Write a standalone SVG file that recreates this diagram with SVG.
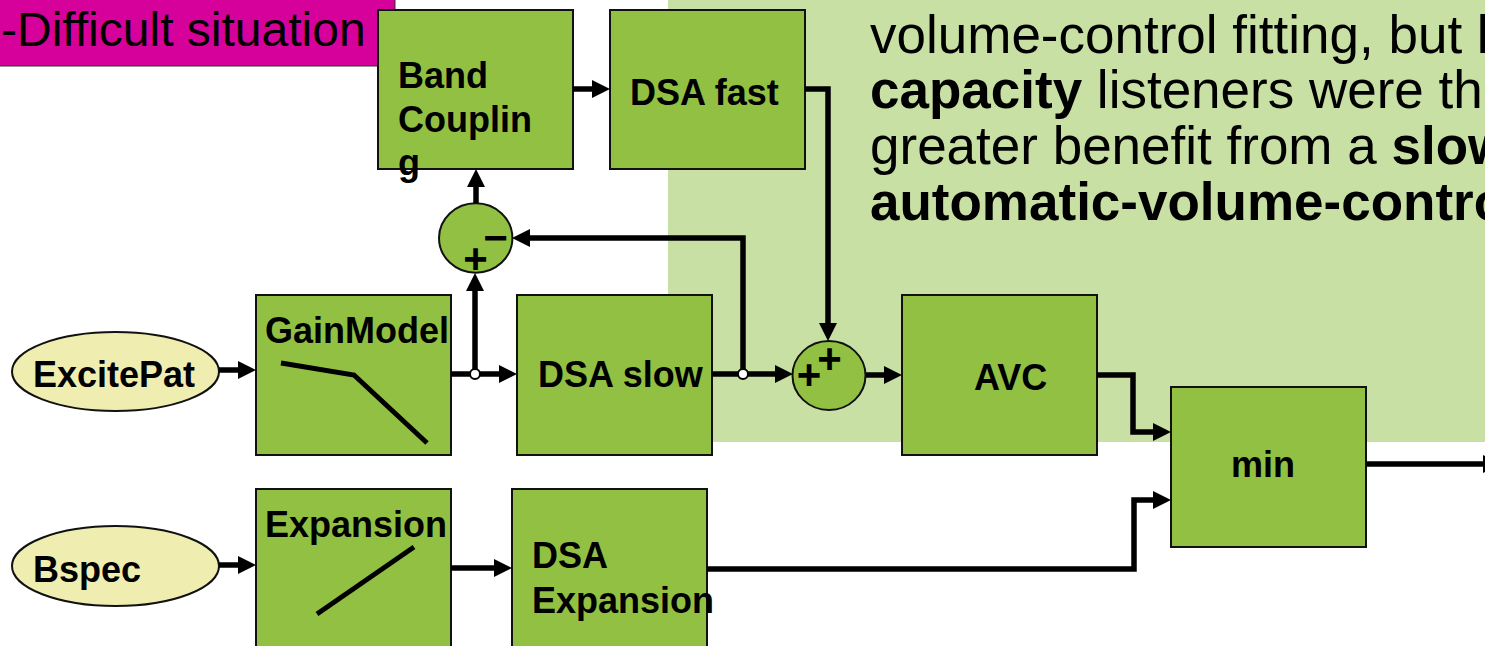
<svg xmlns="http://www.w3.org/2000/svg" width="1485" height="646" viewBox="0 0 1485 646">
<defs>
<style>
.box{fill:#92C043;stroke:#111;stroke-width:2}
.ell{fill:#EFEEB0;stroke:#111;stroke-width:2}
.sum{fill:#92C043;stroke:#111;stroke-width:2}
.lbl{font-family:"Liberation Sans",Arial,sans-serif;font-weight:bold;font-size:36px;fill:#000}
.sign{font-family:"Liberation Sans",Arial,sans-serif;font-weight:bold;font-size:42px;fill:#000;text-anchor:middle}
.body{font-family:"Liberation Sans",Arial,sans-serif;font-size:53px;fill:#000}
.conn{fill:none;stroke:#000;stroke-width:5.5;marker-end:url(#arr)}
.curve{fill:none;stroke:#000;stroke-width:5}
.dot{fill:#fff;stroke:#000;stroke-width:2}
</style>
<marker id="arr" markerUnits="userSpaceOnUse" markerWidth="18" markerHeight="18" refX="0" refY="9" orient="auto">
<path d="M0,0 L18,9 L0,18 Z" fill="#000"/>
</marker>
</defs>

<g id="background">
<rect x="668" y="0" width="817" height="442" fill="#C8E0A4"/>
<text class="body" x="870" y="53">volume-control fitting, but l</text>
<text class="body" x="870" y="108"><tspan font-weight="bold">capacity</tspan> listeners were th</text>
<text class="body" x="870" y="164">greater benefit from a <tspan font-weight="bold">slow</tspan></text>
<text class="body" x="870" y="220" font-weight="bold">automatic-volume-control</text>
</g>

<g id="title">
<rect x="-2" y="-2" width="397" height="68" fill="#D6009A" stroke="#333" stroke-width="1"/>
<text x="1" y="46" font-family="Liberation Sans,Arial,sans-serif" font-size="48" fill="#000">-Difficult situation</text>
</g>

<g id="excitepat">
<ellipse class="ell" cx="115.5" cy="371.5" rx="103.5" ry="39.5"/>
<text class="lbl" x="33" y="387">ExcitePat</text>
</g>

<g id="bspec">
<ellipse class="ell" cx="115.5" cy="566" rx="103.5" ry="40"/>
<text class="lbl" x="33" y="582">Bspec</text>
</g>

<g id="gainmodel">
<rect class="box" x="256" y="295" width="195" height="160"/>
<text class="lbl" x="265" y="343">GainModel</text>
<polyline class="curve" points="281,363 354,375 427,443"/>
</g>

<g id="expansion">
<rect class="box" x="256" y="489" width="195" height="170"/>
<text class="lbl" x="265" y="537">Expansion</text>
<line class="curve" x1="317" y1="614" x2="414" y2="547"/>
</g>

<g id="bandcoupling">
<rect class="box" x="378" y="10" width="195" height="159"/>
<text class="lbl" x="398" y="88">Band</text>
<text class="lbl" x="398" y="131.5">Couplin</text>
<text class="lbl" x="398" y="175">g</text>
</g>

<g id="dsafast">
<rect class="box" x="610" y="10" width="195" height="159"/>
<text class="lbl" x="630" y="105">DSA fast</text>
</g>

<g id="dsaslow">
<rect class="box" x="517" y="295" width="195" height="160"/>
<text class="lbl" x="538" y="387">DSA slow</text>
</g>

<g id="dsaexpansion">
<rect class="box" x="512" y="489" width="195" height="170"/>
<text class="lbl" x="532" y="568">DSA</text>
<text class="lbl" x="532" y="613">Expansion</text>
</g>

<g id="avc">
<rect class="box" x="902" y="295" width="195" height="160"/>
<text class="lbl" x="974" y="390">AVC</text>
</g>

<g id="min">
<rect class="box" x="1171" y="387" width="195" height="160"/>
<text class="lbl" x="1231" y="477">min</text>
</g>

<g id="sum-minus">
<ellipse class="sum" cx="475.7" cy="238" rx="36.7" ry="34.7"/>
<text class="sign" x="495.5" y="251.5">−</text>
<text class="sign" x="475.5" y="272.5">+</text>
</g>

<g id="sum-plus">
<ellipse class="sum" cx="829" cy="375.5" rx="36.5" ry="34.5"/>
<text class="sign" x="829.5" y="373" font-size="40">+</text>
<text class="sign" x="809" y="388.5" font-size="40">+</text>
</g>

<g id="connectors">
<path class="conn" d="M219,370 H238"/>
<path class="conn" d="M451,374 H499"/>
<path class="conn" d="M475,374 V291"/>
<path class="conn" d="M476,203 V187"/>
<path class="conn" d="M573,89 H592"/>
<path class="conn" d="M805,89 H828 V323"/>
<path class="conn" d="M712,374 H775"/>
<path class="conn" d="M743,374 V238 H530"/>
<path class="conn" d="M866,375 H884"/>
<path class="conn" d="M1097,375 H1133 V432 H1153"/>
<path class="conn" d="M219,565 H238"/>
<path class="conn" d="M451,568 H494"/>
<path class="conn" d="M707,569 H1134 V500 H1153"/>
<path class="conn" d="M1366,464 H1483"/>
<circle class="dot" cx="475" cy="374" r="5"/>
<circle class="dot" cx="743" cy="374" r="5"/>
</g>
</svg>
